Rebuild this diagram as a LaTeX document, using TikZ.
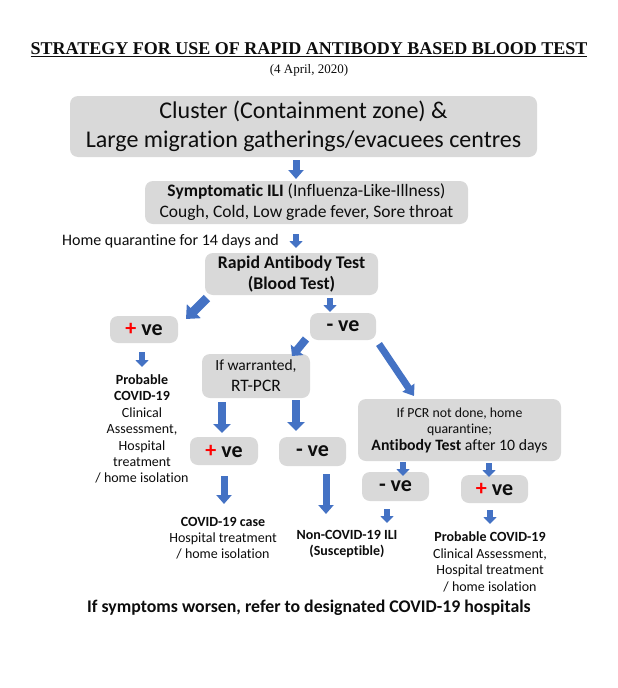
\documentclass[tikz,border=0pt]{standalone}
\usepackage{fontspec}
\setmainfont{Carlito}[Ligatures=NoCommon]
\newfontfamily\titlefont{Liberation Serif}
\usetikzlibrary{arrows.meta}
\definecolor{boxgray}{HTML}{D9D9D9}
\definecolor{arrblue}{HTML}{4472C4}
\definecolor{txt}{HTML}{0D0D0D}
\definecolor{plusred}{HTML}{FF0000}
\newcommand{\fs}[2]{\fontsize{#1}{#2}\selectfont}
\begin{document}
\begin{tikzpicture}[x=1pt,y=-1pt,
  graybox/.style={fill=boxgray, rounded corners=8pt, align=center, inner sep=0pt, text=txt},
  plain/.style={align=center, inner sep=0pt, text=txt},
  arr/.style n args={3}{draw=arrblue, line width=#1, line cap=butt,
     -{Triangle[width=#2, length=#3, fill=arrblue]}}
]
\useasboundingbox (0,0) rectangle (618,688);
\fill[white] (0,0) rectangle (618,688);

% title
\node[plain, font=\titlefont\bfseries\fs{18}{21}] (title) at (309,50) {\underline{STRATEGY FOR USE OF RAPID ANTIBODY BASED BLOOD TEST}};
\node[plain, font=\titlefont\fs{13}{15}] (date) at (309,70) {(4 April, 2020)};

% boxes
\node[graybox, minimum width=467pt, minimum height=61pt, font=\fs{24}{29}] (cluster) at (303.5,126.5)
  {Cluster (Containment zone) \&\\Large migration gatherings/evacuees centres};
\node[graybox, minimum width=323pt, minimum height=43pt, font=\fs{17.5}{21}] (ili) at (306.5,202.5)
  {\textbf{Symptomatic ILI} (Influenza-Like-Illness)\\Cough, Cold, Low grade fever, Sore throat};
\node[plain, anchor=west, font=\fs{16}{18}] (hq) at (62,241) {Home quarantine for 14 days and};
\node[graybox, minimum width=173pt, minimum height=42pt, font=\bfseries\fs{17.8}{21}] (rat) at (291.5,274)
  {Rapid Antibody Test\\(Blood Test)};
\node[graybox, minimum width=68pt, minimum height=27pt, font=\bfseries\fs{22}{24}] (pos1) at (144,329.5)
  {\textcolor{plusred}{+} ve};
\node[graybox, minimum width=66pt, minimum height=27pt, font=\bfseries\fs{22}{24}] (neg1) at (343,326.5)
  {- ve};
\node[plain, font=\fs{14}{16.4}] (probL) at (142,429)
  {\textbf{Probable}\\\textbf{COVID-19}\\Clinical\\Assessment,\\Hospital\\treatment\\/ home isolation};
\node[graybox, minimum width=108pt, minimum height=44pt, font=\fs{15.5}{21}] (rtpcr) at (256,376)
  {If warranted,\\\fs{17.5}{21}RT-PCR};
\node[graybox, minimum width=68pt, minimum height=28pt, font=\bfseries\fs{22}{24}] (pos2) at (224,451)
  {\textcolor{plusred}{+} ve};
\node[graybox, minimum width=67pt, minimum height=29pt, font=\bfseries\fs{22}{24}] (neg2) at (312.5,451.5)
  {- ve};
\node[graybox, minimum width=203pt, minimum height=62pt, font=\fs{13.8}{16}] (abt) at (459.5,430)
  {If PCR not done, home\\quarantine;\\[1pt]\fs{15.8}{18}\textbf{Antibody Test} after 10 days};
\node[graybox, minimum width=67pt, minimum height=29pt, font=\bfseries\fs{22}{24}] (neg3) at (395.5,486.5)
  {- ve};
\node[graybox, minimum width=67pt, minimum height=28pt, font=\bfseries\fs{22}{24}] (pos3) at (494.5,489)
  {\textcolor{plusred}{+} ve};
\node[plain, font=\fs{14}{16}] (caseT) at (223,538)
  {\textbf{COVID-19 case}\\Hospital treatment\\/ home isolation};
\node[plain, font=\fs{14}{16}] (nonT) at (347,544)
  {\textbf{Non-COVID-19 ILI}\\\textbf{(Susceptible)}};
\node[plain, font=\fs{14}{16.6}] (probR) at (490,562)
  {\textbf{Probable COVID-19}\\Clinical Assessment,\\Hospital treatment\\/ home isolation};
\node[plain, font=\bfseries\fs{17.8}{19}] (bottom) at (309,608)
  {If symptoms worsen, refer to designated COVID-19 hospitals};

% arrow end points
\coordinate (a1s) at (296,160);  \coordinate (a1e) at (296,179);
\coordinate (a2s) at (296,234);  \coordinate (a2e) at (296,248);
\coordinate (a3s) at (207,298);  \coordinate (a3e) at (186,319);
\coordinate (a4s) at (330,298);  \coordinate (a4e) at (330,312);
\coordinate (a5s) at (142,352);  \coordinate (a5e) at (142,367);
\coordinate (a6s) at (306,339);  \coordinate (a6e) at (292,356);
\coordinate (a7s) at (379,344);  \coordinate (a7e) at (414,396);
\coordinate (a8s) at (222,402);  \coordinate (a8e) at (222,433);
\coordinate (a9s) at (296,400);  \coordinate (a9e) at (296,431);
\coordinate (a10s) at (403,462); \coordinate (a10e) at (403,476);
\coordinate (a11s) at (489,463); \coordinate (a11e) at (489,477);
\coordinate (a12s) at (224,476); \coordinate (a12e) at (224,504);
\coordinate (a13s) at (326,474); \coordinate (a13e) at (326,514);
\coordinate (a14s) at (387,509); \coordinate (a14e) at (387,523);
\coordinate (a15s) at (490,510); \coordinate (a15e) at (490,524);

\draw[arr={7pt}{15pt}{9pt}] (a1s) -- (a1e);
\draw[arr={6pt}{13pt}{7pt}] (a2s) -- (a2e);
\draw[arr={9pt}{19pt}{11pt}] (a3s) -- (a3e);
\draw[arr={6pt}{13pt}{7pt}] (a4s) -- (a4e);
\draw[arr={6pt}{13pt}{7pt}] (a5s) -- (a5e);
\draw[arr={8pt}{16pt}{8pt}] (a6s) -- (a6e);
\draw[arr={7pt}{14pt}{10pt}] (a7s) -- (a7e);
\draw[arr={8pt}{17pt}{9pt}] (a8s) -- (a8e);
\draw[arr={8pt}{17pt}{9pt}] (a9s) -- (a9e);
\draw[arr={6pt}{13pt}{7pt}] (a10s) -- (a10e);
\draw[arr={6pt}{13pt}{7pt}] (a11s) -- (a11e);
\draw[arr={7pt}{15pt}{9pt}] (a12s) -- (a12e);
\draw[arr={7pt}{15pt}{9pt}] (a13s) -- (a13e);
\draw[arr={6pt}{13pt}{7pt}] (a14s) -- (a14e);
\draw[arr={6pt}{13pt}{7pt}] (a15s) -- (a15e);
\end{tikzpicture}
\end{document}
